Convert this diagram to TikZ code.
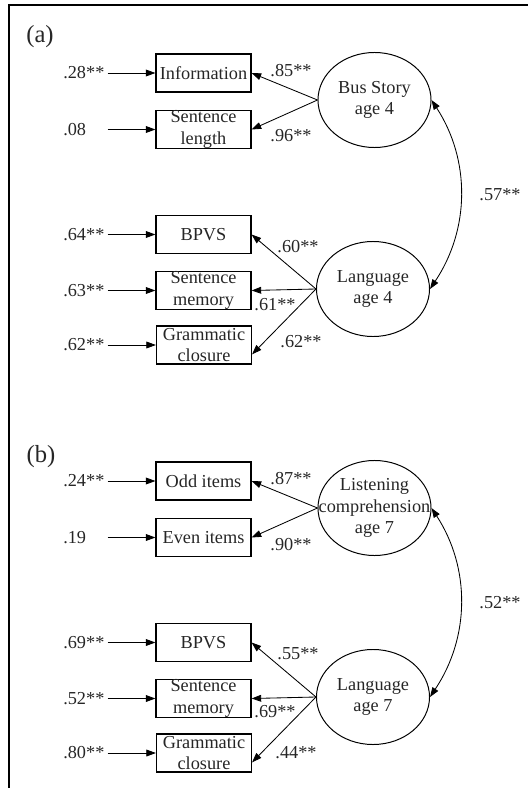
\documentclass[tikz,border=0pt]{standalone}
\usepackage{fontspec}
\setmainfont{Liberation Serif}
\usetikzlibrary{arrows.meta,shapes.geometric}

\newcommand{\semfont}{\fontsize{13}{15.4}\selectfont}

\begin{document}
\begin{tikzpicture}[x=0.025cm, y=-0.025cm, every node/.style={font=\semfont, text=black!85}, >={Triangle[length=2.4mm,width=1.7mm]},
	obs/.style={draw, line width=0.8pt, minimum width=2.375cm, minimum height=0.95cm, inner sep=0pt, align=center},
	latent/.style={draw, ellipse, line width=0.7pt, minimum width=2.825cm, minimum height=2.375cm, inner sep=0pt, align=center},
	err/.style={anchor=west, inner sep=0pt, text width=1.1cm},
	conn/.style={->, line width=0.6pt},
	panel/.style={font=\fontsize{17.5}{20}\selectfont}]
	\useasboundingbox (0,0) rectangle (528,788);
	\draw[line width=0.9pt] (9,788) -- (9,5) -- (528,5);
	\begin{scope}
		\node[panel] (pa) at (40,37) {(a)};
		\node[obs] (info) at (203.5,73) {Information};
		\node[obs] (slen) at (203.5,129.5) {Sentence\\length};
		\node[obs] (bpvsA) at (203.5,234.5) {BPVS};
		\node[obs] (smemA) at (203.5,290.5) {Sentence\\memory};
		\node[obs] (gclA) at (204,345) {Grammatic\\closure};
		\node[latent] (bus) at (374.5,100) {Bus Story\\age 4};
		\node[latent] (langA) at (373,289) {Language\\age 4};
		\node[err] (eInfo) at (63,73) {.28**};
		\node[err] (eSlen) at (63,129.5) {.08};
		\node[err] (eBpvsA) at (63,234.5) {.64**};
		\node[err] (eSmemA) at (63,290.5) {.63**};
		\node[err] (eGclA) at (63,345) {.62**};
		\draw[conn] (eInfo.east) -- (info.west);
		\draw[conn] (eSlen.east) -- (slen.west);
		\draw[conn] (eBpvsA.east) -- (bpvsA.west);
		\draw[conn] (eSmemA.east) -- (smemA.west);
		\draw[conn] (eGclA.east) -- (gclA.west);
		\draw[conn] (bus.west) -- (info.east);
		\draw[conn] (bus.west) -- (slen.east);
		\draw[conn] (langA.west) -- (bpvsA.east);
		\draw[conn] (langA.west) -- (smemA.east);
		\draw[conn] (langA.west) -- (gclA.-11);
		\draw[conn, <->] (bus.east) .. controls +(39,60) and +(40,-60) .. (langA.east);
		\node (ldInfo) at (291,71) {.85**};
		\node (ldSlen) at (291,136) {.96**};
		\node (ldBpvsA) at (298,247) {.60**};
		\node (ldSmemA) at (275,305) {.61**};
		\node (ldGclA) at (301,342) {.62**};
		\node (corA) at (500,195) {.57**};
	\end{scope}
	\begin{scope}[shift={(0,408)}]
		\node[panel] (pb) at (41,49) {(b)};
		\node[obs] (odd) at (203.5,73) {Odd items};
		\node[obs] (even) at (203.5,129.5) {Even items};
		\node[obs] (bpvsB) at (203.5,234.5) {BPVS};
		\node[obs] (smemB) at (203.5,290.5) {Sentence\\memory};
		\node[obs] (gclB) at (204,345) {Grammatic\\closure};
		\node[latent] (listen) at (374.5,100) {Listening\\\makebox[0pt]{comprehension}\\age 7};
		\node[latent] (langB) at (373,289) {Language\\age 7};
		\node[err] (eOdd) at (63,73) {.24**};
		\node[err] (eEven) at (63,129.5) {.19};
		\node[err] (eBpvsB) at (63,234.5) {.69**};
		\node[err] (eSmemB) at (63,290.5) {.52**};
		\node[err] (eGclB) at (63,345) {.80**};
		\draw[conn] (eOdd.east) -- (odd.west);
		\draw[conn] (eEven.east) -- (even.west);
		\draw[conn] (eBpvsB.east) -- (bpvsB.west);
		\draw[conn] (eSmemB.east) -- (smemB.west);
		\draw[conn] (eGclB.east) -- (gclB.west);
		\draw[conn] (listen.west) -- (odd.east);
		\draw[conn] (listen.west) -- (even.east);
		\draw[conn] (langB.west) -- (bpvsB.east);
		\draw[conn] (langB.west) -- (smemB.east);
		\draw[conn] (langB.west) -- (gclB.-11);
		\draw[conn, <->] (listen.east) .. controls +(39,60) and +(40,-60) .. (langB.east);
		\node (ldOdd) at (291,71) {.87**};
		\node (ldEven) at (291,137) {.90**};
		\node (ldBpvsB) at (298,246) {.55**};
		\node (ldSmemB) at (275,304) {.69**};
		\node (ldGclB) at (296,345) {.44**};
		\node (corB) at (500,195) {.52**};
	\end{scope}
\end{tikzpicture}
\end{document}
